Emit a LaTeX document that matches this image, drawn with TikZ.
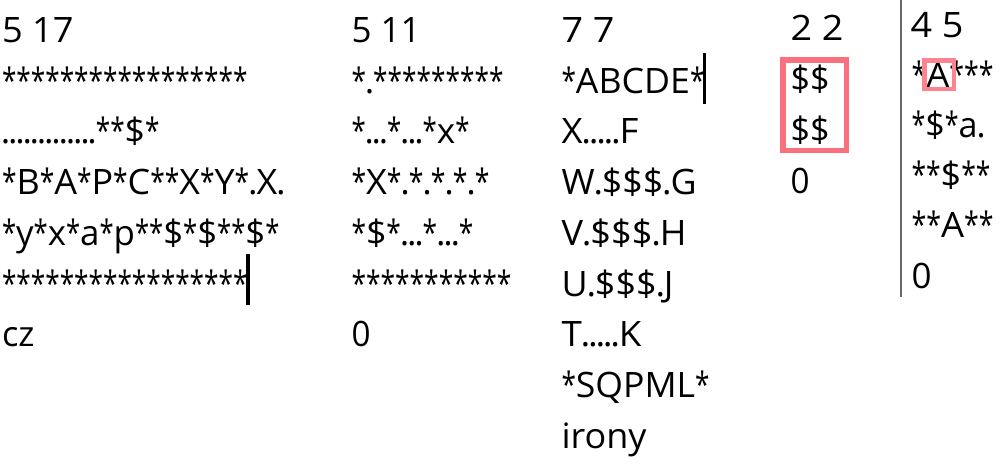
\documentclass[tikz,border=0pt]{standalone}
\usepackage{fontspec}
\setmainfont{Open Sans}
\usepackage{graphicx}
\definecolor{boxred}{RGB}{250,112,124}
\definecolor{boxpink}{RGB}{252,132,144}
\definecolor{divider}{RGB}{100,103,108}
% narrow asterisk and full stop, as in the reference font
\newcommand\starx{\resizebox{14.2pt}{\height}{*}}
\newcommand\dotx{\makebox[7.1pt][c]{.}}
\def\txend{TXEND}
\def\txchar#1{\ifx*#1\let\txnext\starx\else\ifx.#1\let\txnext\dotx\else\def\txnext{#1}\fi\fi\txnext}
\def\txloop#1{\ifx#1\txend\let\txnextloop\relax\else\def\txnextloop{\txchar{#1}\txloop}\fi\txnextloop}
\newcommand\Tx[1]{\txloop#1\txend}
% name, x, baseline, width, text
\newcommand\txline[5]{\node[txt] (#1) at (#2,#3) {\resizebox{#4pt}{\height}{#5}};}
\begin{document}
\begin{tikzpicture}[x=1pt,y=-1pt,
  txt/.style={inner sep=0pt,outer sep=0pt,anchor=base west,font=\fontsize{35}{35}\selectfont},
  redbox/.style={draw=boxred,line width=5.5pt},
  pinkbox/.style={draw=boxpink,line width=4.5pt},
  cursor/.style={draw=black,line width=3.5pt},
  divline/.style={draw=divider,line width=2pt}]
\fill[white] (0,0) rectangle (1007,466);
\useasboundingbox (0,0) rectangle (1007,466);
% column 1
\txline{a0}{2}{42.5}{71.5}{5 17}
\txline{a1}{2}{93.2}{245.5}{\Tx{*****************}}
\txline{a2}{2}{143.9}{157.5}{\Tx{.............**\$*}}
\txline{a3}{2}{194.6}{282.5}{\Tx{*B*A*P*C**X*Y*.X.}}
\txline{a4}{2}{245.3}{277.5}{\Tx{*y*x*a*p**\$*\$**\$*}}
\txline{a5}{2}{296}{245.5}{\Tx{*****************}}
\txline{a6}{2}{346.7}{32.5}{cz}
% column 2
\txline{b0}{351.5}{42.5}{69}{5 11}
\txline{b1}{351.5}{93.2}{152}{\Tx{*.*********}}
\txline{b2}{351.5}{143.9}{118}{\Tx{*...*...*x*}}
\txline{b3}{351.5}{194.6}{138}{\Tx{*X*.*.*.*.*}}
\txline{b4}{351.5}{245.3}{122}{\Tx{*\$*...*...*}}
\txline{b5}{351.5}{296}{160}{\Tx{***********}}
\txline{b6}{351.5}{346.7}{19}{0}
% column 3
\txline{c0}{561.5}{42.5}{53}{7 7}
\txline{c1}{561.5}{93.2}{143}{\Tx{*ABCDE*}}
\txline{c2}{561.5}{143.9}{77}{\Tx{X.....F}}
\txline{c3}{561.5}{194.6}{135}{\Tx{W.\$\$\$.G}}
\txline{c4}{561.5}{245.3}{125}{\Tx{V.\$\$\$.H}}
\txline{c5}{561.5}{296}{112}{\Tx{U.\$\$\$.J}}
\txline{c6}{561.5}{346.7}{80}{\Tx{T.....K}}
\txline{c7}{561.5}{397.4}{148}{\Tx{*SQPML*}}
\txline{c8}{561.5}{448}{85}{irony}
% column 4
\txline{d0}{790.5}{40}{53}{2 2}
\txline{d1}{790.5}{91}{39}{\$\$}
\txline{d2}{790.5}{142}{39}{\$\$}
\txline{d3}{790.5}{193}{19}{0}
% column 5
\txline{e0}{910.5}{37}{53}{4 5}
\txline{e1}{911.5}{87.2}{82}{\Tx{*A***}}
\txline{e2}{911.5}{137.4}{73}{\Tx{*\$*a.}}
\txline{e3}{911.5}{187.6}{79}{\Tx{**\$**}}
\txline{e4}{911.5}{237.8}{82}{\Tx{**A**}}
\txline{e5}{911.5}{288}{20}{0}
% highlight boxes
\draw[redbox] (782.75,59.75) rectangle (846.25,150.25);
\draw[pinkbox] (924.25,60.25) rectangle (953.75,88.75);
% text cursors
\draw[cursor] (248,254) -- (248,305);
\draw[cursor] (704.5,53) -- (704.5,104);
% divider between windows
\draw[divline] (901,0) -- (901,297);
\end{tikzpicture}
\end{document}
